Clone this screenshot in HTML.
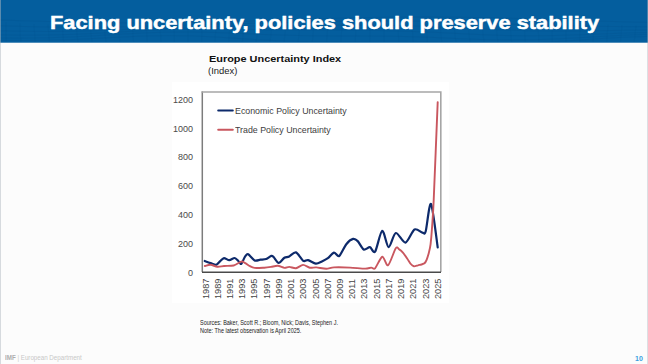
<!DOCTYPE html>
<html><head><meta charset="utf-8"><style>
html,body{margin:0;padding:0;width:648px;height:364px;overflow:hidden;background:#fcfcfc;}
body{position:relative;font-family:"Liberation Sans",sans-serif;}
#hdr{position:absolute;left:0;top:0;width:648px;height:42px;background:#045e9e;overflow:hidden;}
#title{position:absolute;left:49.9px;top:10.6px;color:#fff;font-weight:bold;font-size:18.5px;white-space:nowrap;line-height:24px;transform:scaleX(1.18);transform-origin:0 0;-webkit-text-stroke:0.45px #fff;}
#chartbg{position:absolute;left:172px;top:82px;width:277px;height:221px;background:#fff;}
#ctitle{position:absolute;left:208.6px;top:53.3px;font-weight:bold;font-size:9.9px;color:#111;white-space:nowrap;line-height:12px;transform:scaleX(1.105);transform-origin:0 0;}
#csub{position:absolute;left:208.4px;top:65.4px;font-size:8.9px;color:#222;white-space:nowrap;line-height:12px;transform:scaleX(1.06);transform-origin:0 0;}
.yl{position:absolute;right:455px;font-size:9px;color:#4a4a4a;line-height:10px;margin-top:-4.6px;white-space:nowrap;}
.xl{position:absolute;top:299.1px;font-size:9.2px;color:#444;line-height:10px;height:10px;white-space:nowrap;transform:rotate(-90deg);transform-origin:0 0;margin-left:-5.3px;}
.leg{position:absolute;left:234.8px;font-size:9.8px;color:#404040;white-space:nowrap;line-height:10px;transform:scaleX(0.9);transform-origin:0 0;}
#src{position:absolute;left:200.0px;top:319.4px;font-size:6.3px;color:#1a1a1a;white-space:nowrap;line-height:7.6px;transform:scaleX(0.87);transform-origin:0 0;}
#foot{position:absolute;left:5.4px;top:353.8px;font-size:6.9px;color:#c8c8c8;white-space:nowrap;line-height:8px;transform:scaleX(0.9);transform-origin:0 0;}
#foot b{color:#aeaeae;}
#pg{position:absolute;left:635px;top:355px;font-size:7px;font-weight:bold;color:#3a9fdf;line-height:8px;}
#redge{position:absolute;left:647px;top:0;width:1px;height:364px;background:rgba(176,184,192,0.42);}
#ledge{position:absolute;left:0;top:0;width:1px;height:364px;background:rgba(176,184,192,0.5);}
#hb{position:absolute;left:0;top:42px;width:648px;height:1px;background:rgba(4,94,158,0.7);}
</style></head><body>
<div id="hdr">
<svg width="648" height="42" style="position:absolute;left:0;top:0">
<g fill="none" stroke="#02528e" stroke-width="0.5" opacity="0.55"><path d="M0,20.0 L24,20.8 L48,21.5 L72,22.2 L96,22.6 L120,22.9 L144,23.0 L168,22.9 L192,22.5 L216,22.0 L240,21.4 L264,20.6 L288,19.8 L312,19.0 L336,18.3 L360,17.7 L384,17.3 L408,17.0 L432,17.0 L456,17.2 L480,17.6 L504,18.1 L528,18.8 L552,19.6 L576,20.3 L600,21.1 L624,21.8 L648,22.4"/><path d="M0,25.7 L24,26.5 L48,27.0 L72,27.2 L96,27.1 L120,26.8 L144,26.2 L168,25.6 L192,24.9 L216,24.3 L240,23.7 L264,23.1 L288,22.5 L312,21.9 L336,21.3 L360,20.9 L384,20.8 L408,21.0 L432,21.4 L456,22.2 L480,23.1 L504,24.0 L528,24.8 L552,25.5 L576,26.0 L600,26.4 L624,26.6 L648,26.7"/><path d="M0,30.8 L24,31.3 L48,31.5 L72,31.3 L96,30.6 L120,29.7 L144,28.6 L168,27.6 L192,26.9 L216,26.4 L240,26.1 L264,25.9 L288,25.7 L312,25.5 L336,25.3 L360,25.2 L384,25.3 L408,25.8 L432,26.7 L456,27.8 L480,29.0 L504,30.0 L528,30.7 L552,31.0 L576,31.0 L600,30.7 L624,30.3 L648,30.0"/><path d="M0,34.9 L24,35.2 L48,35.0 L72,34.4 L96,33.3 L120,31.9 L144,30.6 L168,29.6 L192,29.1 L216,29.0 L240,29.3 L264,29.7 L288,30.0 L312,30.2 L336,30.3 L360,30.3 L384,30.6 L408,31.3 L432,32.2 L456,33.4 L480,34.6 L504,35.5 L528,35.8 L552,35.6 L576,34.9 L600,34.0 L624,33.1 L648,32.4"/><path d="M0,38.0 L24,38.1 L48,37.8 L72,36.9 L96,35.7 L120,34.2 L144,32.9 L168,32.1 L192,32.0 L216,32.5 L240,33.4 L264,34.5 L288,35.3 L312,35.8 L336,36.0 L360,36.0 L384,36.1 L408,36.6 L432,37.4 L456,38.5 L480,39.5 L504,40.0 L528,39.9 L552,39.2 L576,37.9 L600,36.5 L624,35.2 L648,34.3"/><path d="M0,40.4 L24,40.5 L48,40.3 L72,39.6 L96,38.4 L120,37.1 L144,36.0 L168,35.6 L192,35.9 L216,37.0 L240,38.6 L264,40.1 L288,41.2 L312,41.8 L336,41.8 L360,41.5 L384,41.3 L408,41.3 L432,41.8 L456,42.6 L480,43.3 L504,43.5 L528,43.1 L552,41.9 L576,40.3 L600,38.6 L624,37.2 L648,36.4"/></g><g fill="none" stroke="#02528e" stroke-width="0.4" opacity="0.35"><path d="M6,22.4 L6.2,42"/><path d="M20,23.3 L20.7,42"/><path d="M34,24.1 L35.1,42"/><path d="M48,24.9 L49.4,42"/><path d="M62,25.4 L63.7,42"/><path d="M76,25.8 L77.9,42"/><path d="M90,26.0 L92.0,42"/><path d="M104,25.9 L106.0,42"/><path d="M118,25.7 L119.8,42"/><path d="M132,25.2 L133.6,42"/><path d="M146,24.6 L147.3,42"/><path d="M160,23.8 L160.9,42"/><path d="M174,23.0 L174.5,42"/><path d="M188,22.0 L188.0,42"/><path d="M202,22.9 L201.6,42"/><path d="M216,23.8 L215.1,42"/><path d="M230,24.6 L228.7,42"/><path d="M244,25.2 L242.4,42"/><path d="M258,25.7 L256.2,42"/><path d="M272,25.9 L270.0,42"/><path d="M286,26.0 L284.0,42"/><path d="M300,25.8 L298.1,42"/><path d="M314,25.5 L312.3,42"/><path d="M328,24.9 L326.5,42"/><path d="M342,24.2 L340.9,42"/><path d="M356,23.4 L355.3,42"/><path d="M370,22.5 L369.8,42"/><path d="M384,22.5 L384.2,42"/><path d="M398,23.4 L398.7,42"/><path d="M412,24.2 L413.1,42"/><path d="M426,24.9 L427.5,42"/><path d="M440,25.5 L441.7,42"/><path d="M454,25.8 L455.9,42"/><path d="M468,26.0 L470.0,42"/><path d="M482,25.9 L484.0,42"/><path d="M496,25.7 L497.8,42"/><path d="M510,25.2 L511.6,42"/><path d="M524,24.6 L525.3,42"/><path d="M538,23.8 L538.9,42"/><path d="M552,22.9 L552.4,42"/><path d="M566,22.0 L566.0,42"/><path d="M580,23.0 L579.5,42"/><path d="M594,23.8 L593.1,42"/><path d="M608,24.6 L606.7,42"/><path d="M622,25.2 L620.4,42"/><path d="M636,25.7 L634.2,42"/></g></svg>
<div id="title">Facing uncertainty, policies should preserve stability</div>
</div>
<div id="chartbg"></div>
<div id="ctitle">Europe Uncertainty Index</div>
<div id="csub">(Index)</div>
<div class="yl" style="top:272.30px">0</div><div class="yl" style="top:243.47px">200</div><div class="yl" style="top:214.64px">400</div><div class="yl" style="top:185.81px">600</div><div class="yl" style="top:156.98px">800</div><div class="yl" style="top:128.15px">1000</div><div class="yl" style="top:99.32px">1200</div>
<svg width="648" height="364" style="position:absolute;left:0;top:0">
<path d="M202.3,272 V91.4" fill="none" stroke="#7c7c7c" stroke-width="1.5"/>
<path d="M201.6,92.0 H440.8 V272" fill="none" stroke="#a6a6a6" stroke-width="1.6"/>
<path d="M202,272.3 H441" stroke="#4a4a4a" stroke-width="1.4"/>
<path d="M218.2,110.6 H232.8" stroke="#0d2a6b" stroke-width="2" stroke-linecap="round"/>
<path d="M218.2,129.7 H232.8" stroke="#c9575f" stroke-width="2" stroke-linecap="round"/>
<path d="M204.8,261.0 C205.6,261.3 209.0,262.6 210.6,263.1 C212.2,263.6 215.0,265.1 216.3,264.8 C217.6,264.5 219.1,262.1 220.2,261.2 C221.3,260.3 222.7,258.2 224.0,258.1 C225.3,258.0 227.8,260.2 229.3,260.2 C230.8,260.2 233.3,257.9 234.6,258.0 C235.9,258.1 237.6,260.4 238.5,261.2 C239.4,262.0 240.4,264.5 241.3,263.8 C242.2,263.1 244.2,257.6 245.2,256.3 C246.2,255.0 246.9,253.7 248.2,254.3 C249.5,254.9 252.9,259.6 254.6,260.4 C256.3,261.2 258.8,259.9 260.4,259.7 C262.0,259.5 264.7,259.5 266.2,259.0 C267.7,258.5 270.3,256.1 271.4,255.9 C272.5,255.7 272.8,256.3 273.8,257.3 C274.8,258.3 277.2,262.8 278.7,262.9 C280.2,263.0 282.9,258.7 284.4,257.8 C285.9,256.9 287.6,257.3 289.2,256.5 C290.8,255.7 294.0,251.8 296.0,252.4 C298.0,253.0 301.5,259.7 303.2,260.8 C304.9,261.9 306.3,259.7 308.1,260.1 C309.9,260.5 313.9,263.4 315.8,263.6 C317.7,263.8 320.2,262.2 321.9,261.4 C323.6,260.6 326.2,259.3 327.9,258.1 C329.6,256.9 332.3,252.9 333.9,252.6 C335.5,252.3 337.5,257.2 339.2,256.0 C340.9,254.8 344.4,246.6 346.3,244.2 C348.2,241.8 351.5,239.3 353.1,238.9 C354.7,238.5 356.2,239.6 357.7,241.1 C359.2,242.6 362.0,248.6 363.7,249.5 C365.4,250.4 368.3,246.9 369.9,247.2 C371.5,247.5 373.4,254.0 375.1,251.7 C376.8,249.4 380.3,231.4 382.2,230.8 C384.1,230.2 386.7,246.9 388.6,247.2 C390.5,247.5 393.4,233.6 395.8,233.0 C398.2,232.4 402.9,243.1 405.5,242.6 C408.1,242.1 412.1,230.9 414.5,229.5 C416.9,228.1 420.8,232.3 422.4,232.6 C424.0,232.9 424.5,235.3 425.7,231.3 C426.9,227.3 429.3,201.7 431.0,204.0 C432.7,206.3 436.8,241.3 437.7,247.4" fill="none" stroke="#0d2a6b" stroke-width="2.2" stroke-linejoin="round" stroke-linecap="round"/>
<path d="M204.8,266.0 C205.6,265.8 208.8,264.7 210.6,264.8 C212.3,264.9 215.4,266.5 217.3,266.7 C219.2,266.9 221.7,266.2 224.0,266.0 C226.3,265.8 231.3,266.1 233.7,265.5 C236.1,264.9 239.7,261.9 241.3,261.6 C242.9,261.3 244.0,262.5 245.2,263.1 C246.4,263.7 248.7,265.5 250.0,266.2 C251.3,266.9 252.6,267.7 254.6,267.9 C256.6,268.1 261.9,267.8 264.2,267.7 C266.5,267.6 269.1,267.2 271.0,266.9 C272.9,266.6 275.8,265.7 277.7,265.8 C279.6,265.9 282.8,267.7 284.4,267.9 C286.0,268.1 287.6,266.9 289.2,266.9 C290.8,266.9 294.1,268.5 296.0,268.2 C297.9,267.9 301.1,265.0 303.0,264.9 C304.9,264.8 307.9,267.3 309.8,267.7 C311.7,268.1 314.1,267.2 316.4,267.4 C318.7,267.6 323.8,268.8 326.3,268.8 C328.8,268.8 330.7,267.6 334.0,267.4 C337.3,267.2 345.7,267.4 350.1,267.6 C354.5,267.8 362.2,268.6 365.2,268.6 C368.2,268.6 369.9,267.6 371.3,267.6 C372.7,267.6 373.6,269.8 375.1,268.3 C376.6,266.8 380.5,257.2 382.3,256.8 C384.1,256.4 386.2,266.4 388.1,265.2 C390.0,264.0 394.2,250.4 395.8,248.2 C397.4,246.0 398.2,248.8 399.2,249.4 C400.2,250.0 401.8,251.3 402.9,252.6 C404.0,253.9 406.2,257.1 407.3,258.7 C408.4,260.3 409.9,262.9 410.8,264.0 C411.7,265.1 412.9,266.1 413.9,266.3 C414.9,266.5 416.8,265.6 417.9,265.3 C418.9,265.0 420.5,264.8 421.4,264.5 C422.3,264.2 423.8,263.9 424.5,263.3 C425.2,262.7 426.0,261.4 426.6,259.9 C427.2,258.4 428.2,255.1 428.8,252.9 C429.4,250.7 430.2,247.7 430.6,244.2 C431.0,240.7 431.6,234.2 432.0,228.0 C432.4,221.8 432.9,217.6 433.7,200.0 C434.5,182.4 437.1,115.8 437.7,102.1" fill="none" stroke="#c9575f" stroke-width="1.9" stroke-linejoin="round" stroke-linecap="round"/>
</svg>
<div class="leg" style="top:105.9px">Economic Policy Uncertainty</div>
<div class="leg" style="top:125.0px">Trade Policy Uncertainty</div>
<div class="xl" style="left:205.80px">1987</div><div class="xl" style="left:218.03px">1989</div><div class="xl" style="left:230.26px">1991</div><div class="xl" style="left:242.48px">1993</div><div class="xl" style="left:254.71px">1995</div><div class="xl" style="left:266.94px">1997</div><div class="xl" style="left:279.17px">1999</div><div class="xl" style="left:291.40px">2001</div><div class="xl" style="left:303.62px">2003</div><div class="xl" style="left:315.85px">2005</div><div class="xl" style="left:328.08px">2007</div><div class="xl" style="left:340.31px">2009</div><div class="xl" style="left:352.54px">2011</div><div class="xl" style="left:364.76px">2013</div><div class="xl" style="left:376.99px">2015</div><div class="xl" style="left:389.22px">2017</div><div class="xl" style="left:401.45px">2019</div><div class="xl" style="left:413.68px">2021</div><div class="xl" style="left:425.90px">2023</div><div class="xl" style="left:438.13px">2025</div>
<div id="src">Sources: Baker, Scott R.; Bloom, Nick; Davis, Stephen J.<br>Note: The latest observation is April 2025.</div>
<div id="foot"><b>IMF</b> | European Department</div>
<div id="pg">10</div>
<div id="hb"></div>
<div id="redge"></div>
<div id="ledge"></div>
</body></html>
